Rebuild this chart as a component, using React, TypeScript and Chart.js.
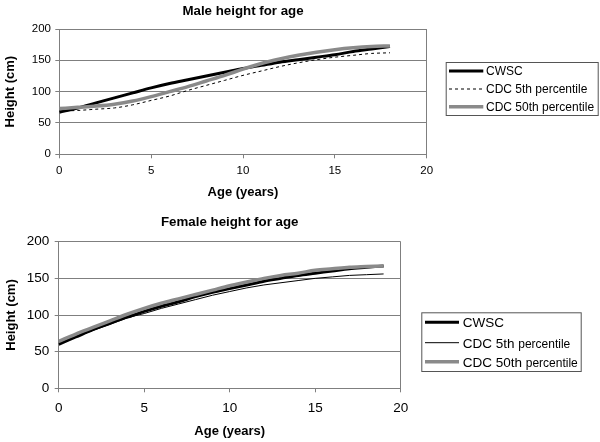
import React, { useEffect, useRef } from 'react';
import { Chart, registerables } from 'chart.js';
Chart.register(...registerables);

// ---------- data ----------
const seriesLabels = ['CWSC', 'CDC 5th percentile', 'CDC 50th percentile'];
const xTickValues = [0, 5, 10, 15, 20];
const yTickValues = [0, 50, 100, 150, 200];

const maleAges = [0, 1, 2, 3, 4, 5, 6, 7, 8, 9, 10, 11, 12, 13, 14, 15, 16, 17, 18];
const maleCWSC = [67, 74, 82, 90, 98, 106, 113, 119, 125, 131, 137, 142, 147, 151, 155, 159, 164, 168, 172];
const maleCDC5 = [69, 70, 72, 74, 79, 86, 93, 102, 110, 118, 126, 133, 140, 146, 151, 155, 158, 161, 162];
const maleCDC50 = [73, 75, 77, 80, 85, 92, 100, 108, 117, 126, 136, 145, 152, 158, 163, 167, 170, 172, 173];

const femaleAges = [0, 1, 2, 3, 4, 5, 6, 7, 8, 9, 10, 11, 12, 13, 14, 15, 16, 17, 18, 19];
const femaleCWSC = [60, 70, 80, 89, 97, 105, 112, 118, 125, 131, 136, 141, 146, 150, 154, 157, 160, 163, 165, 167];
const femaleCDC5 = [61, 70, 79, 87, 96, 102, 109, 115, 121, 127, 132, 137, 141, 144, 147, 150, 152, 154, 155, 156];
const femaleCDC50 = [64, 74, 83, 92, 101, 109, 116, 122, 128, 134, 140, 145, 150, 154, 157, 161, 163, 165, 166, 167];

const GRAY = '#7f7f7f';
const FONT = '"Liberation Sans", Arial, sans-serif';

type Spec = {
  W: number; H: number;
  area: { left: number; top: number; right: number; bottom: number };
  ages: number[];
  values: number[][];
  fifthDashed: boolean;
  title: string; titleY: number; titleSize: number;
  tickSize: number; axisTitleSize: number;
  xTickPad: number; yTickPad: number; xTitlePadBottom: number; yTitlePadTop: number;
  legend: { x: number; y: number; w: number; h: number; rows: number[]; sx0: number; sx1: number; tx: number; size: number; smallSize: number };
};

function buildChart(canvas: HTMLCanvasElement, s: Spec) {
  const styles = [
    { borderColor: '#000000', borderWidth: 3, borderDash: [] as number[], order: 1 },
    { borderColor: '#000000', borderWidth: 1, borderDash: s.fifthDashed ? [3, 3] : [], order: 2 },
    { borderColor: '#8a8a8a', borderWidth: 3.5, borderDash: [] as number[], order: 0 },
  ];
  const datasets = s.values.map((vals, i) => ({
    label: seriesLabels[i],
    data: s.ages.map((a, j) => ({ x: a, y: vals[j] })),
    borderColor: styles[i].borderColor,
    borderWidth: styles[i].borderWidth,
    borderDash: styles[i].borderDash,
    order: styles[i].order,
    pointRadius: 0,
    tension: 0.4,
    cubicInterpolationMode: 'monotone' as const,
    fill: false,
  }));

  const decor = {
    id: 'decor',
    afterDraw(chart: any) {
      const ctx = chart.ctx as CanvasRenderingContext2D;
      const ca = chart.chartArea;
      ctx.save();
      // title
      ctx.fillStyle = '#000';
      ctx.font = `bold ${s.titleSize}px ${FONT}`;
      ctx.textAlign = 'center';
      ctx.textBaseline = 'middle';
      ctx.fillText(s.title, (ca.left + ca.right) / 2, s.titleY);
      // legend
      const L = s.legend;
      ctx.strokeStyle = '#555';
      ctx.lineWidth = 1;
      ctx.setLineDash([]);
      ctx.strokeRect(L.x + 0.5, L.y + 0.5, L.w, L.h);
      chart.data.datasets.forEach((ds: any, i: number) => {
        const ry = L.rows[i];
        ctx.beginPath();
        ctx.setLineDash(ds.borderDash || []);
        ctx.lineWidth = ds.borderWidth;
        ctx.strokeStyle = ds.borderColor;
        ctx.moveTo(L.sx0, ry);
        ctx.lineTo(L.sx1, ry);
        ctx.stroke();
        ctx.setLineDash([]);
        ctx.fillStyle = '#000';
        ctx.textAlign = 'left';
        ctx.textBaseline = 'alphabetic';
        const base = ry + L.size * 0.36;
        const label: string = ds.label;
        const idx = label.indexOf(' percentile');
        if (L.smallSize !== L.size && idx >= 0) {
          const head = label.slice(0, idx + 1);
          const tail = label.slice(idx + 1);
          ctx.font = `${L.size}px ${FONT}`;
          ctx.fillText(head, L.tx, base);
          const w = ctx.measureText(head).width;
          ctx.font = `${L.smallSize}px ${FONT}`;
          ctx.fillText(tail, L.tx + w, base);
        } else {
          ctx.font = `${L.size}px ${FONT}`;
          ctx.fillText(label, L.tx, base);
        }
      });
      ctx.restore();
    },
  };

  return new Chart(canvas, {
    type: 'line',
    data: { datasets },
    options: {
      animation: false,
      responsive: false,
      devicePixelRatio: 1,
      layout: { padding: { left: 0, top: s.area.top, right: s.W - s.area.right, bottom: 0 } },
      plugins: { legend: { display: false }, title: { display: false }, tooltip: { enabled: false } },
      scales: {
        x: {
          type: 'linear',
          min: 0,
          max: 20,
          afterBuildTicks: (sc: any) => { sc.ticks = xTickValues.map((v) => ({ value: v })); },
          afterFit: (sc: any) => { sc.height = s.H - s.area.bottom; },
          grid: {
            color: (c: any) => (c.tick && c.tick.value === 20 ? GRAY : 'rgba(0,0,0,0)'),
            tickColor: GRAY,
            tickLength: 4,
            lineWidth: 1,
          },
          border: { color: GRAY, width: 1 },
          ticks: { color: '#000', font: { family: FONT, size: s.tickSize }, padding: s.xTickPad, maxRotation: 0 },
          title: {
            display: true,
            text: 'Age (years)',
            color: '#000',
            font: { family: FONT, size: s.axisTitleSize, weight: 'bold' },
            padding: { top: 0, bottom: s.xTitlePadBottom },
          },
        },
        y: {
          type: 'linear',
          min: 0,
          max: 200,
          afterBuildTicks: (sc: any) => { sc.ticks = yTickValues.map((v) => ({ value: v })); },
          afterFit: (sc: any) => { sc.width = s.area.left; },
          grid: { color: GRAY, tickColor: GRAY, tickLength: 4, lineWidth: 1 },
          border: { color: GRAY, width: 1 },
          ticks: { color: '#000', font: { family: FONT, size: s.tickSize }, padding: s.yTickPad },
          title: {
            display: true,
            text: 'Height (cm)',
            color: '#000',
            font: { family: FONT, size: s.axisTitleSize, weight: 'bold' },
            padding: { top: s.yTitlePadTop, bottom: 0 },
          },
        },
      },
    } as any,
    plugins: [decor],
  });
}

const maleSpec: Spec = {
  W: 600, H: 210,
  area: { left: 59.3, top: 29, right: 426.7, bottom: 154.3 },
  ages: maleAges,
  values: [maleCWSC, maleCDC5, maleCDC50],
  fifthDashed: true,
  title: 'Male height for age', titleY: 11, titleSize: 13.3,
  tickSize: 11.5, axisTitleSize: 13,
  xTickPad: 6, yTickPad: 4.3, xTitlePadBottom: 9.7, yTitlePadTop: 2.7,
  legend: { x: 445.7, y: 62, w: 152, h: 53, rows: [71, 89, 106.7], sx0: 449, sx1: 483.3, tx: 486, size: 12, smallSize: 12 },
};

const femaleSpec: Spec = {
  W: 600, H: 232,
  area: { left: 58.7, top: 31.7, right: 400.7, bottom: 178.3 },
  ages: femaleAges,
  values: [femaleCWSC, femaleCDC5, femaleCDC50],
  fifthDashed: false,
  title: 'Female height for age', titleY: 12, titleSize: 13.3,
  tickSize: 13.5, axisTitleSize: 13,
  xTickPad: 8, yTickPad: 5.4, xTitlePadBottom: 3.2, yTitlePadTop: 4,
  legend: { x: 421.3, y: 102.3, w: 159.4, h: 58.7, rows: [112.3, 132.7, 151.7], sx0: 425, sx1: 459, tx: 462.7, size: 13.5, smallSize: 12 },
};

function ChartCanvas({ spec, top }: { spec: Spec; top: number }) {
  const ref = useRef<HTMLCanvasElement | null>(null);
  useEffect(() => {
    if (!ref.current) return;
    const chart = buildChart(ref.current, spec);
    return () => chart.destroy();
  }, [spec]);
  return (
    <canvas
      ref={ref}
      width={spec.W}
      height={spec.H}
      style={{ position: 'absolute', left: 0, top, width: spec.W, height: spec.H, display: 'block' }}
    />
  );
}

export default function App() {
  return (
    <div style={{ position: 'fixed', left: 0, top: 0, width: 600, height: 442, background: '#fff', overflow: 'hidden' }}>
      <ChartCanvas spec={maleSpec} top={0} />
      <ChartCanvas spec={femaleSpec} top={210} />
    </div>
  );
}
